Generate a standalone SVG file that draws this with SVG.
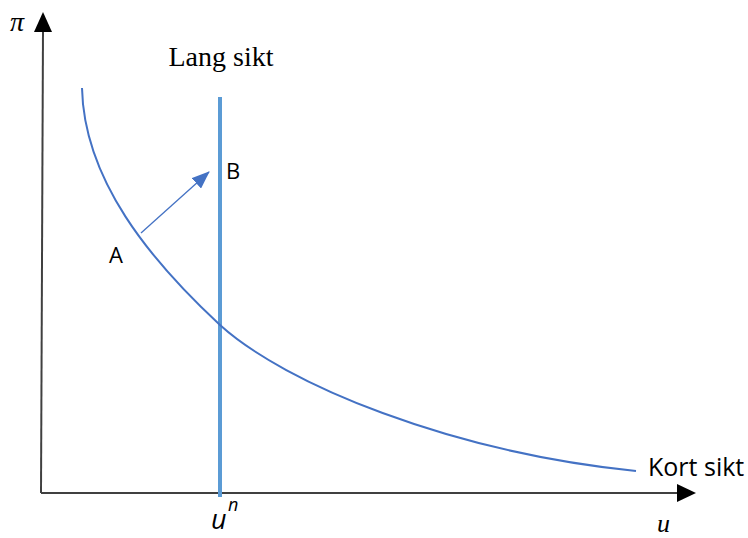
<svg xmlns="http://www.w3.org/2000/svg" width="748" height="538" viewBox="0 0 748 538">
<style>
.axis{stroke:#404040;stroke-width:2;fill:none}
.serif{font-family:"Liberation Serif","DejaVu Serif",serif;fill:#000}
.sans{font-family:"Open Sans","Liberation Sans",sans-serif;fill:#000}
</style>
<defs>
<marker id="bh" markerWidth="18" markerHeight="14" refX="17" refY="7" orient="auto" markerUnits="userSpaceOnUse">
<path d="M0,0 L18,7 L0,14 Z" fill="#4472C4"/>
</marker>
</defs>
<g id="connectors">
<path class="axis" d="M41,493 L43,30"/>
<path d="M43,12 L52,32 L34,32 Z" fill="#000"/>
<path class="axis" d="M41,493 L678,493"/>
<path d="M696,493 L677,484 L677,502 Z" fill="#000"/>
<line x1="141" y1="233" x2="209" y2="172" stroke="#4472C4" stroke-width="1.3" marker-end="url(#bh)"/>
</g>
<g id="long-run">
<line x1="220" y1="97" x2="220" y2="497" stroke="#5B9BD5" stroke-width="4"/>
<text class="serif" x="221" y="66" font-size="28" text-anchor="middle">Lang sikt</text>
</g>
<g id="short-run">
<path d="M82,88 C84,180 150,260 220,325 C285,384 450,452 636,471" stroke="#4472C4" stroke-width="2" fill="none"/>
<text class="sans" x="648" y="476" font-size="25">Kort sikt</text>
</g>
<g id="point-a"><text class="sans" x="109" y="263" font-size="22">A</text></g>
<g id="point-b"><text class="sans" x="226" y="179" font-size="22">B</text></g>
<g id="labels">
<text class="serif" x="10" y="31" font-size="28" font-style="italic">π</text>
<text class="serif" x="657" y="532" font-size="26" font-style="italic">u</text>
<text class="sans" x="211" y="529" font-size="27" font-style="italic">u</text>
<text class="sans" x="228" y="511" font-size="18" font-style="italic">n</text>
</g>
</svg>
